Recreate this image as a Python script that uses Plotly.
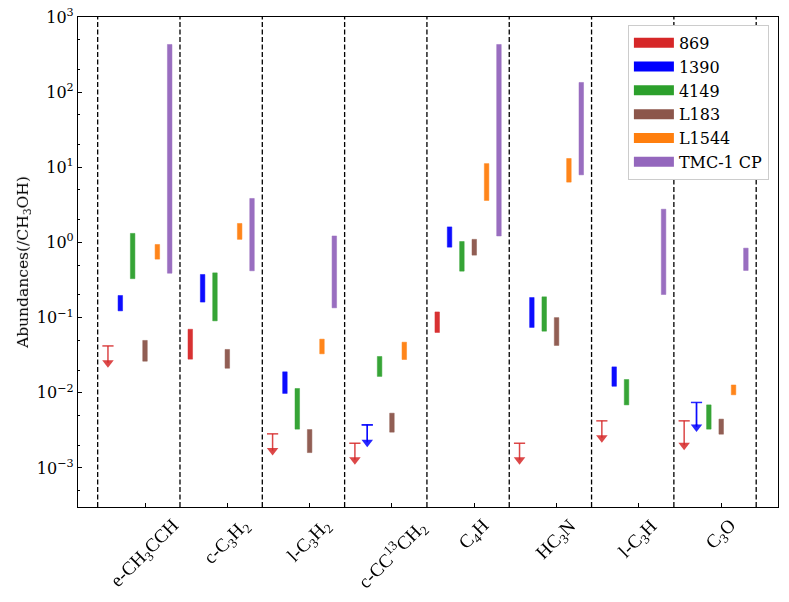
import plotly.graph_objects as go

# ---------------- data ----------------
categories = ["e-CH<sub>3</sub>CCH", "c-C<sub>3</sub>H<sub>2</sub>", "l-C<sub>3</sub>H<sub>2</sub>",
              "c-CC<sup>13</sup>CH<sub>2</sub>", "C<sub>4</sub>H", "HC<sub>3</sub>N",
              "l-C<sub>3</sub>H", "C<sub>3</sub>O"]
sources = ["869", "1390", "4149", "L183", "L1544", "TMC-1 CP"]
colors = ["#d62728", "#0000ff", "#2ca02c", "#8c564b", "#ff7f0e", "#9467bd"]

# detected ranges (low, high) per molecule; None = no detection range
low_869 = [None, 0.028, None, None, 0.0634, None, None, None]
high_869 = [None, 0.070, None, None, 0.119, None, None, None]
low_1390 = [0.123, 0.161, 0.0098, None, 0.866, 0.074, 0.0122, None]
high_1390 = [0.197, 0.375, 0.019, None, 1.61, 0.185, 0.0221, None]
low_4149 = [0.33, 0.0906, 0.00328, 0.0165, 0.415, 0.066, 0.0069, 0.00328]
high_4149 = [1.32, 0.394, 0.0114, 0.0304, 1.03, 0.189, 0.015, 0.0069]
low_L183 = [0.0263, 0.0212, 0.0016, 0.00299, 0.678, 0.0426, None, 0.00281]
high_L183 = [0.0497, 0.0377, 0.00324, 0.00535, 1.10, 0.100, None, 0.00446]
low_L1544 = [0.60, 1.10, 0.033, 0.0277, 3.62, 6.35, None, 0.0094]
high_L1544 = [0.94, 1.79, 0.0517, 0.0471, 11.2, 13.1, None, 0.0127]
low_TMC1 = [0.39, 0.42, 0.135, None, 1.22, 7.94, 0.203, 0.424]
high_TMC1 = [431, 3.85, 1.22, None, 431, 134.6, 2.77, 0.84]

# upper limits (cap value, arrow end)
ulim_869 = [0.042, None, 0.00284, 0.00213, None, 0.00213, 0.00423, 0.00423]
uend_869 = [0.025, None, 0.0017, 0.00128, None, 0.00128, 0.00252, 0.002]
ulim_1390 = [None, None, None, 0.00374, None, None, None, 0.00743]
uend_1390 = [None, None, None, 0.0022, None, None, None, 0.0035]

lows = [low_869, low_1390, low_4149, low_L183, low_L1544, low_TMC1]
highs = [high_869, high_1390, high_4149, high_L183, high_L1544, high_TMC1]
ulims = {0: (ulim_869, uend_869), 1: (ulim_1390, uend_1390)}

ytickvals = [1e-3, 1e-2, 1e-1, 1e0, 1e1, 1e2, 1e3]
yticktext = ["10<sup>\u22123</sup>", "10<sup>\u22122</sup>", "10<sup>\u22121</sup>",
             "10<sup>0</sup>", "10<sup>1</sup>", "10<sup>2</sup>", "10<sup>3</sup>"]

# ---------------- figure ----------------
step = 0.15
bar_w = 0.055
serif = "DejaVu Serif"
fig = go.Figure()

for k, (name, col) in enumerate(zip(sources, colors)):
    off = (k - 3) * step
    xs, bases, lens = [], [], []
    for i in range(len(categories)):
        lo, hi = lows[k][i], highs[k][i]
        if lo is not None and hi is not None:
            xs.append(i + off)
            bases.append(lo)
            lens.append(hi - lo)
    fig.add_trace(go.Bar(x=xs, y=lens, base=bases, width=bar_w,
                         marker=dict(color=col, line=dict(width=0.5, color=col)),
                         opacity=0.95, showlegend=False, legendgroup=name, hoverinfo="skip"))
    if k in ulims:
        caps, ends = ulims[k]
        lx, ly, cx, cy, tx, ty = [], [], [], [], [], []
        for i in range(len(categories)):
            if caps[i] is None:
                continue
            x = i + off
            lx += [x, x, None]
            ly += [caps[i], ends[i], None]
            cx.append(x); cy.append(caps[i])
            tx.append(x); ty.append(ends[i])
        fig.add_trace(go.Scatter(x=lx, y=ly, mode="lines", line=dict(color=col, width=1.5),
                                 opacity=0.85, showlegend=False, hoverinfo="skip"))
        fig.add_trace(go.Scatter(x=cx, y=cy, mode="markers",
                                 marker=dict(symbol="line-ew", size=8, line=dict(color=col, width=1.5)),
                                 opacity=0.85, showlegend=False, hoverinfo="skip"))
        fig.add_trace(go.Scatter(x=tx, y=ty, mode="markers",
                                 marker=dict(symbol="triangle-down", size=10, color=col,
                                             line=dict(width=0)),
                                 opacity=0.85, showlegend=False, hoverinfo="skip"))
    # legend entry
    fig.add_trace(go.Scatter(x=[None], y=[None], mode="lines", name=name, legendgroup=name,
                             line=dict(color=col, width=11)))

# dashed separators
center_off = -0.5 * step
for i in range(len(categories) + 1):
    xv = i - 0.5 + center_off
    fig.add_shape(type="line", xref="x", yref="paper", x0=xv, x1=xv, y0=0, y1=1,
                  line=dict(color="black", width=1.3, dash="5px,2.5px"), layer="below")

# category labels (rotated, centred on tick)
for i, lab in enumerate(categories):
    fig.add_annotation(x=i, y=0, xref="x", yref="paper", text=lab, showarrow=False,
                       textangle=-45, xanchor="center", yanchor="top", yshift=-5,
                       font=dict(family="Liberation Serif", size=19, color="black"))

fig.update_layout(
    width=789, height=602,
    margin=dict(l=78, r=11, t=17, b=95),
    plot_bgcolor="white", paper_bgcolor="white",
    barmode="overlay",
    font=dict(family=serif, size=15, color="black"),
    legend=dict(x=0.987, y=0.984, xanchor="right", yanchor="top",
                bgcolor="white", bordercolor="#cccccc", borderwidth=1,
                font=dict(family=serif, size=16), itemwidth=40,
                tracegroupgap=0),
)
fig.update_xaxes(range=[-0.814, 7.69], tickvals=list(range(len(categories))),
                 showticklabels=False, automargin=False,
                 ticks="inside", ticklen=4, tickcolor="black",
                 showline=True, linecolor="black", linewidth=1.2, mirror=True,
                 showgrid=False, zeroline=False)
fig.update_yaxes(type="log", range=[-3.52, 3], tickvals=ytickvals, ticktext=yticktext,
                 automargin=False, ticklabeloverflow="allow",
                 ticks="inside", ticklen=4, tickcolor="black",
                 minor=dict(ticks="inside", ticklen=2, tickcolor="black", showgrid=False),
                 showline=True, linecolor="black", linewidth=1.2, mirror=True,
                 showgrid=False, zeroline=False,
                 tickfont=dict(family=serif, size=16),
                 title=dict(text="Abundances(/CH<sub>3</sub>OH)", font=dict(family=serif, size=15.5),
                            standoff=4))

fig.write_html("out.html", config={"displayModeBar": False},
               post_script="document.body.style.margin='0';document.body.style.overflow='hidden';")
